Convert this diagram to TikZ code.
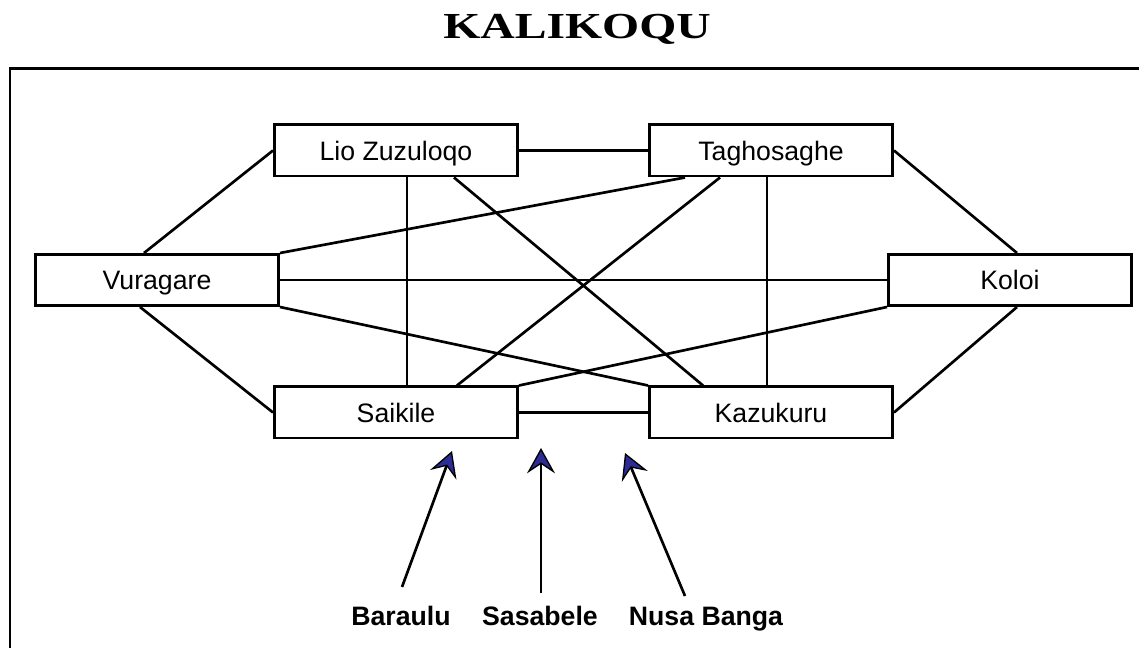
\documentclass[tikz,border=0pt]{standalone}
\usepackage{fontspec}
\setmainfont{Liberation Sans}
\newfontfamily\titlefont{Liberation Serif}
\usetikzlibrary{arrows.meta,calc}
\definecolor{arrowblue}{RGB}{44,44,150}

\tikzset{
  place/.style={draw, line width=2pt, minimum width=182.5pt, minimum height=38.5pt, inner sep=0pt,
    text height=14.3pt, text depth=0pt, font=\fontsize{20}{24}\selectfont},
  link/.style={line width=2pt},
  pointer/.style={line width=2pt, -{Stealth[length=19pt,width=21pt,inset=7pt,line width=1pt,fill=arrowblue]}},
  islandname/.style={anchor=base, font=\fontsize{20}{24}\selectfont\bfseries},
}

\begin{document}
\begin{tikzpicture}[x=0.75pt,y=0.75pt,yscale=-1,xscale=1]
\useasboundingbox (0,0) rectangle (1139,648);

%Frame
\draw [line width=2.2pt] (10,68.5) rectangle (1170,700);

% Title Node
\node [anchor=base, font=\titlefont\bfseries\fontsize{27.5}{30}\selectfont] (title) at (577,39) {\scalebox{1.3}[1]{KALIKOQU}};

%Boxes
\node [place] (lio) at (396,150.5) {Lio Zuzuloqo};
\node [place] (taghos) at (771,150.5) {Taghosaghe};
\node [place] (vura) at (157,280) {Vuragare};
\node [place] (koloi) at (1010,280) {Koloi};
\node [place] (saik) at (396,412.5) {Saikile};
\node [place] (kazu) at (771,412.5) {Kazukuru};

%Straight Lines
\draw [link] (lio.east) -- (taghos.west);
\draw [link] (saik.east) -- (kazu.west);
\draw [link] (lio.west) -- ($(vura.north)+(-13,0)$);
\draw [link] ($(vura.south)+(-17,0)$) -- (saik.west);
\draw [link] (taghos.east) -- ($(koloi.north)+(7,0)$);
\draw [link] ($(koloi.south)+(7,0)$) -- (kazu.east);
\draw [link] (vura.north east) -- ($(taghos.south)+(-86,0)$);
\draw [link] (vura.east) -- (koloi.west);
\draw [link] (vura.south east) -- (kazu.north west);
\draw [link] (koloi.south west) -- (saik.north east);
\draw [link] ($(lio.south)+(11,0)$) -- ($(saik.north)+(11,0)$);
\draw [link] ($(lio.south)+(58,0)$) -- ($(kazu.north)+(-68,0)$);
\draw [link] ($(taghos.south)+(-51,0)$) -- ($(saik.north)+(61,0)$);
\draw [link] ($(taghos.south)+(-4,0)$) -- ($(kazu.north)+(-4,0)$);

% Text Nodes
\node [islandname] (baraulu) at (401,625) {Baraulu};
\node [islandname] (sasabele) at (540,625) {Sasabele};
\node [islandname] (nusabanga) at (706,625) {Nusa Banga};

%Arrows
\coordinate (baraulutail) at (402,587);
\coordinate (baraulutip) at (452,451);
\coordinate (sasabeletail) at (541,593);
\coordinate (sasabeletip) at (541,448);
\coordinate (nusatail) at (685,596);
\coordinate (nusatip) at (625,453);
\draw [pointer] (baraulutail) -- (baraulutip);
\draw [pointer] (sasabeletail) -- (sasabeletip);
\draw [pointer] (nusatail) -- (nusatip);

\end{tikzpicture}
\end{document}
